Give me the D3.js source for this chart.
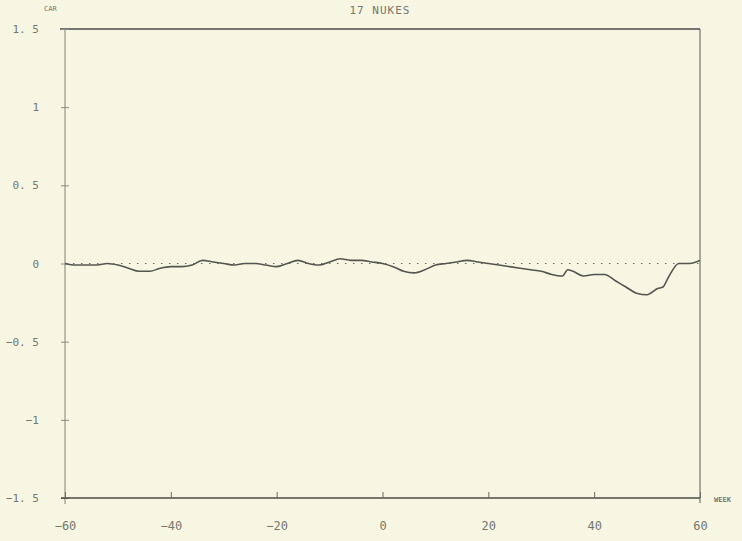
<!DOCTYPE html>
<html>
<head>
<meta charset="utf-8">
<script src="https://cdn.jsdelivr.net/npm/d3@7"></script>
<style>
  body { margin: 0; background: #f6f6e3; }
  svg text { font-family: "DejaVu Sans Mono", monospace; fill: #77776f; }
</style>
</head>
<body>
<div id="chart"></div>
<script>
// weeks relative to event, cumulative abnormal return
const weeks = [-60, -58, -56, -54, -52, -50, -48, -46, -44, -42, -40, -38, -36, -34, -32, -30,
  -28, -26, -24, -22, -20, -18, -16, -14, -12, -10, -8, -6, -4, -2, 0,
  2, 4, 6, 8, 10, 12, 14, 16, 18, 20, 22, 24, 26, 28, 30, 32, 34, 35, 36, 38,
  40, 42, 44, 46, 48, 50, 52, 53, 54, 56, 58, 60];
const car = [0.00, -0.01, -0.01, -0.01, 0.00, -0.01, -0.03, -0.05, -0.05, -0.03, -0.02, -0.02, -0.01, 0.02, 0.01, 0.00,
  -0.01, 0.00, 0.00, -0.01, -0.02, 0.00, 0.02, 0.00, -0.01, 0.01, 0.03, 0.02, 0.02, 0.01, 0.00,
  -0.02, -0.05, -0.06, -0.04, -0.01, 0.00, 0.01, 0.02, 0.01, 0.00, -0.01, -0.02, -0.03, -0.04, -0.05, -0.07, -0.08, -0.04, -0.05, -0.08,
  -0.07, -0.07, -0.11, -0.15, -0.19, -0.20, -0.16, -0.15, -0.09, 0.00, 0.00, 0.02];

const xTicks = [-60, -40, -20, 0, 20, 40, 60];
const yTicks = [1.5, 1, 0.5, 0, -0.5, -1, -1.5];

const width = 742, height = 541;
const svg = d3.select("#chart").append("svg")
    .attr("width", width)
    .attr("height", height);

const x = d3.scaleLinear().domain([-60, 60]).range([65, 700]);
const y = d3.scaleLinear().domain([-1.5, 1.5]).range([498, 29]);

const ink = "#4a4a46";

// frame
svg.append("line")
    .attr("x1", 60).attr("x2", x(60))
    .attr("y1", y(1.5)).attr("y2", y(1.5))
    .attr("stroke", ink).attr("stroke-width", 1.6);
svg.append("line")
    .attr("x1", x(60)).attr("x2", x(60))
    .attr("y1", y(1.5)).attr("y2", y(-1.5) + 5)
    .attr("stroke", "#5a5a55").attr("stroke-width", 1);

// left axis
const yAxis = svg.append("g")
    .attr("transform", `translate(${x(-60)},0)`)
    .call(d3.axisLeft(y).tickValues(yTicks).tickSize(4).tickPadding(22)
        .tickFormat(d => d3.format(".1~f")(d).replace(".", ". ")));
yAxis.select(".domain").attr("stroke", "#8a8a84").attr("stroke-width", 1.1)
    .attr("d", `M0,${y(1.5)}V${y(-1.5) + 6}`);
yAxis.selectAll(".tick line").attr("stroke", "#8a8a84").attr("x2", -4).attr("x1", 4);
yAxis.selectAll(".tick text").style("font-size", "11px").attr("fill", "#7a7a73");

// bottom axis
const xAxis = svg.append("g")
    .attr("transform", `translate(0,${y(-1.5)})`)
    .call(d3.axisBottom(x).tickValues(xTicks).tickSize(0).tickPadding(23));
xAxis.select(".domain").attr("stroke", ink).attr("stroke-width", 1.6)
    .attr("d", `M${x(-60) - 4},0H${x(60)}`);
xAxis.selectAll(".tick line").attr("stroke", "#6a6a64").attr("y1", 0).attr("y2", -6);
xAxis.selectAll(".tick text").style("font-size", "12px").attr("fill", "#6f6f68");

// zero reference
svg.append("line")
    .attr("x1", x(-60)).attr("x2", x(60))
    .attr("y1", y(0)).attr("y2", y(0))
    .attr("stroke", "#6a6a66").attr("stroke-width", 1.2)
    .attr("stroke-dasharray", "1.5,6.5");

// CAR series
const line = d3.line()
    .x((d, i) => x(weeks[i]))
    .y(d => y(d))
    .curve(d3.curveMonotoneX);
svg.append("path")
    .datum(car)
    .attr("fill", "none")
    .attr("stroke", "#55554f")
    .attr("stroke-width", 1.6)
    .attr("d", line);

// labels
svg.append("text").attr("x", 380).attr("y", 14).attr("text-anchor", "middle")
    .style("font-size", "11px").style("letter-spacing", "1px").text("17 NUKES");
svg.append("text").attr("x", 44).attr("y", 11).attr("text-anchor", "start")
    .style("font-size", "7px").text("CAR");
svg.append("text").attr("x", 714).attr("y", 502).attr("text-anchor", "start")
    .style("font-size", "7px").style("font-weight", "bold").text("WEEK");
</script>
</body>
</html>
